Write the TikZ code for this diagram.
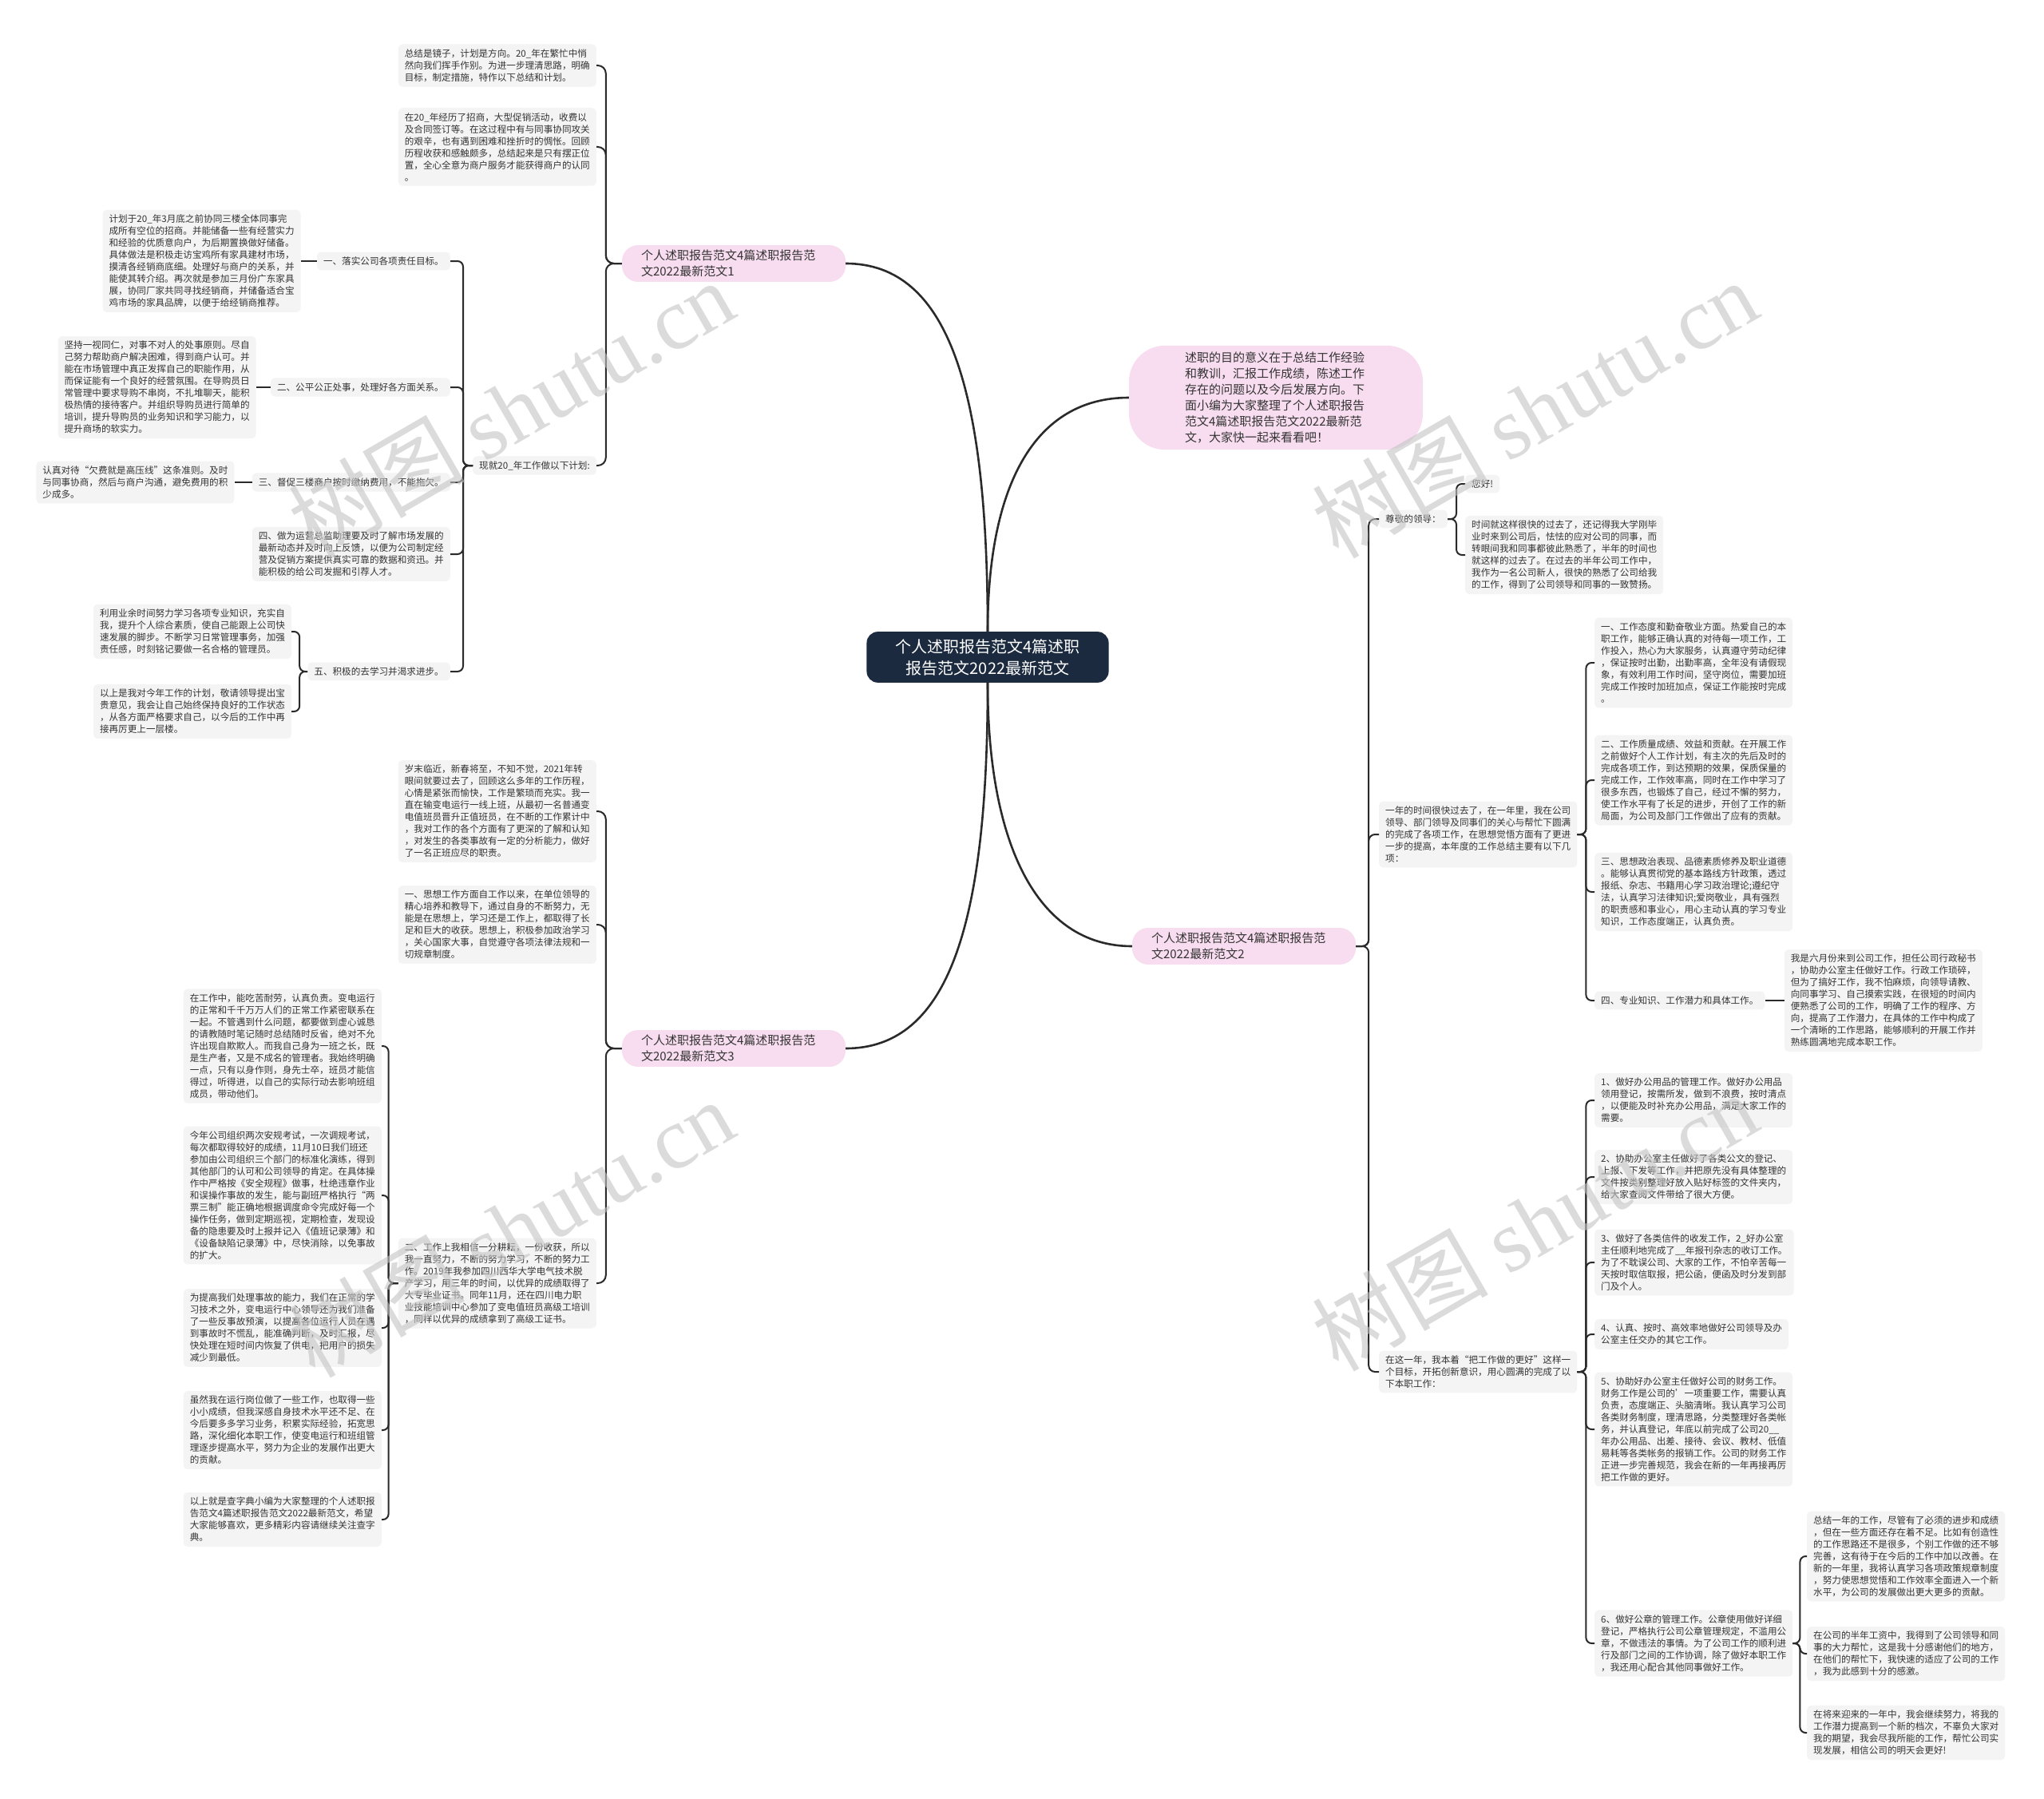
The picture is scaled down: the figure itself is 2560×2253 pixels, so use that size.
\documentclass[tikz,border=0pt]{standalone}
\usepackage{fontspec}
\setmainfont{Noto Sans CJK SC}
\newfontfamily\wmlatin{Liberation Serif}
\usetikzlibrary{positioning,calc}
\definecolor{navy}{HTML}{1B2A3F}
\definecolor{pinkfill}{HTML}{F8DDF0}
\definecolor{leafgray}{HTML}{F4F4F4}
\definecolor{ink}{HTML}{333333}
\definecolor{wire}{HTML}{2A2A2A}
\definecolor{wmgray}{HTML}{C4C4C4}
\newcommand{\leaffont}{\fontsize{11.6}{15}\selectfont}
\tikzset{
  ctrbox/.style={fill=navy, text=white, rounded corners=14pt, align=center,
                 font=\fontsize{20}{27}\selectfont, inner xsep=36pt, inner ysep=9pt},
  pinkbox/.style={fill=pinkfill, text=ink, rounded corners=20pt, align=left,
                  font=\fontsize{15}{20}\selectfont, text width=232pt,
                  inner xsep=24pt, inner ysep=6pt},
  leaf/.style={fill=leafgray, text=ink, rounded corners=5pt, align=left,
               font=\leaffont, inner xsep=8pt, inner ysep=6pt},
  trunk/.style={draw=wire, line width=2.6pt},
  twig/.style={draw=wire, line width=2pt, rounded corners=7pt},
  wmark/.style={rotate=30, text=wmgray, text opacity=0.6, inner sep=0pt,
                font=\fontsize{110}{110}\selectfont}
}
\begin{document}
\begin{tikzpicture}[x=1pt,y=-1pt]
  \fill[white] (0,0) rectangle (2560,2253);

  % centre and first level
  \node[ctrbox] (ctr) at (1237,823) {个人述职报告范文4篇述职\\报告范文2022最新范文};
  \node[pinkbox] (b1) at (919,330) {个人述职报告范文4篇述职报告范\\文2022最新范文1};
  \node[pinkbox, text width=228pt, inner xsep=70pt, inner ysep=8pt, rounded corners=45pt] (intro) at (1598,498)
    {述职的目的意义在于总结工作经验\\和教训，汇报工作成绩，陈述工作\\存在的问题以及今后发展方向。下\\面小编为大家整理了个人述职报告\\范文4篇述职报告范文2022最新范\\文，大家快一起来看看吧！};
  \node[pinkbox] (b2) at (1558,1185) {个人述职报告范文4篇述职报告范\\文2022最新范文2};
  \node[pinkbox] (b3) at (919,1313) {个人述职报告范文4篇述职报告范\\文2022最新范文3};

  \draw[trunk] (ctr.north) .. controls +(0,-300) and +(130,0) .. (b1.east);
  \draw[trunk] (ctr.north) .. controls +(0,-180) and +(-120,0) .. (intro.west);
  \draw[trunk] (ctr.south) .. controls +(0,200) and +(-120,0) .. (b2.west);
  \draw[trunk] (ctr.south) .. controls +(0,300) and +(130,0) .. (b3.east);

  % branch 1
  \node[leaf, anchor=east] (l1a) at (747,82) {总结是镜子，计划是方向。20\_年在繁忙中悄\\然向我们挥手作别。为进一步理清思路，明确\\目标，制定措施，特作以下总结和计划。};
  \node[leaf, anchor=east] (l1b) at (747,184) {在20\_年经历了招商，大型促销活动，收费以\\及合同签订等。在这过程中有与同事协同攻关\\的艰辛，也有遇到困难和挫折时的惆怅。回顾\\历程收获和感触颇多，总结起来是只有摆正位\\置，全心全意为商户服务才能获得商户的认同\\。};
  \node[leaf, anchor=east] (l1c) at (747,583) {现就20\_年工作做以下计划:};

  \node[leaf, anchor=east] (c1) at (564,327) {一、落实公司各项责任目标。};
  \node[leaf, anchor=east] (c2) at (564,485) {二、公平公正处事，处理好各方面关系。};
  \node[leaf, anchor=east] (c3) at (564,604) {三、督促三楼商户按时缴纳费用，不能拖欠。};
  \node[leaf, anchor=east] (c4) at (564,694) {四、做为运营总监助理要及时了解市场发展的\\最新动态并及时向上反馈，以便为公司制定经\\营及促销方案提供真实可靠的数据和资迅。并\\能积极的给公司发掘和引荐人才。};
  \node[leaf, anchor=east] (c5) at (564,841) {五、积极的去学习并渴求进步。};

  \node[leaf, left=20pt of c1] (g1) {计划于20\_年3月底之前协同三楼全体同事完\\成所有空位的招商。并能储备一些有经营实力\\和经验的优质意向户，为后期置换做好储备。\\具体做法是积极走访宝鸡所有家具建材市场，\\摸清各经销商底细。处理好与商户的关系，并\\能使其转介绍。再次就是参加三月份广东家具\\展，协同厂家共同寻找经销商，并储备适合宝\\鸡市场的家具品牌，以便于给经销商推荐。};
  \node[leaf, left=18pt of c2] (g2) {坚持一视同仁，对事不对人的处事原则。尽自\\己努力帮助商户解决困难，得到商户认可。并\\能在市场管理中真正发挥自己的职能作用，从\\而保证能有一个良好的经营氛围。在导购员日\\常管理中要求导购不串岗，不扎堆聊天，能积\\极热情的接待客户。并组织导购员进行简单的\\培训，提升导购员的业务知识和学习能力，以\\提升商场的软实力。};
  \node[leaf, left=22pt of c3] (g3) {认真对待“欠费就是高压线”这条准则。及时\\与同事协商，然后与商户沟通，避免费用的积\\少成多。};
  \node[leaf, left=20pt of c5, yshift=50pt] (g5a) {利用业余时间努力学习各项专业知识，充实自\\我，提升个人综合素质，使自己能跟上公司快\\速发展的脚步。不断学习日常管理事务，加强\\责任感，时刻铭记要做一名合格的管理员。};
  \node[leaf, left=20pt of c5, yshift=-50pt] (g5b) {以上是我对今年工作的计划，敬请领导提出宝\\贵意见，我会让自己始终保持良好的工作状态\\，从各方面严格要求自己，以今后的工作中再\\接再厉更上一层楼。};

  \foreach \c in {l1a,l1b,l1c} { \draw[twig, rounded corners=10pt] (b1.west) -- ++(-20,0) |- (\c.east); }
  \foreach \c in {c1,c2,c3,c4,c5} { \draw[twig] (l1c.west) -- ++(-12,0) |- (\c.east); }
  \draw[twig] (c1.west) -- (g1.east);
  \draw[twig] (c2.west) -- (g2.east);
  \draw[twig] (c3.west) -- (g3.east);
  \foreach \g in {g5a,g5b} { \draw[twig] (c5.west) -- ++(-10,0) |- (\g.east); }

  % branch 3
  \node[leaf, anchor=east] (l3a) at (747,1016) {岁末临近，新春将至，不知不觉，2021年转\\眼间就要过去了，回顾这么多年的工作历程，\\心情是紧张而愉快，工作是繁琐而充实。我一\\直在输变电运行一线上班，从最初一名普通变\\电值班员晋升正值班员，在不断的工作累计中\\，我对工作的各个方面有了更深的了解和认知\\，对发生的各类事故有一定的分析能力，做好\\了一名正班应尽的职责。};
  \node[leaf, anchor=east] (l3b) at (747,1158) {一、思想工作方面自工作以来，在单位领导的\\精心培养和教导下，通过自身的不断努力，无\\能是在思想上，学习还是工作上，都取得了长\\足和巨大的收获。思想上，积极参加政治学习\\，关心国家大事，自觉遵守各项法律法规和一\\切规章制度。};
  \node[leaf, anchor=east] (l3c) at (747,1607) {二、工作上我相信一分耕耘，一份收获，所以\\我一直努力，不断的努力学习，不断的努力工\\作。2019年我参加四川西华大学电气技术脱\\产学习，用三年的时间，以优异的成绩取得了\\大专毕业证书。同年11月，还在四川电力职\\业技能培训中心参加了变电值班员高级工培训\\，同样以优异的成绩拿到了高级工证书。};

  \node[leaf, anchor=east] (d1) at (478,1310) {在工作中，能吃苦耐劳，认真负责。变电运行\\的正常和千千万万人们的正常工作紧密联系在\\一起。不管遇到什么问题，都要做到虚心诚恳\\的请教随时笔记随时总结随时反省，绝对不允\\许出现自欺欺人。而我自己身为一班之长，既\\是生产者，又是不成名的管理者。我始终明确\\一点，只有以身作则，身先士卒，班员才能信\\得过，听得进，以自己的实际行动去影响班组\\成员，带动他们。};
  \node[leaf, anchor=east] (d2) at (478,1497) {今年公司组织两次安规考试，一次调规考试，\\每次都取得较好的成绩，11月10日我们班还\\参加由公司组织三个部门的标准化演练，得到\\其他部门的认可和公司领导的肯定。在具体操\\作中严格按《安全规程》做事，杜绝违章作业\\和误操作事故的发生，能与副班严格执行“两\\票三制”能正确地根据调度命令完成好每一个\\操作任务，做到定期巡视，定期检查，发现设\\备的隐患要及时上报并记入《值班记录薄》和\\《设备缺陷记录薄》中，尽快消除，以免事故\\的扩大。};
  \node[leaf, anchor=east] (d3) at (478,1663) {为提高我们处理事故的能力，我们在正常的学\\习技术之外，变电运行中心领导还为我们准备\\了一些反事故预演，以提高各位运行人员在遇\\到事故时不慌乱，能准确判断，及时汇报，尽\\快处理在短时间内恢复了供电，把用户的损失\\减少到最低。};
  \node[leaf, anchor=east] (d4) at (478,1791) {虽然我在运行岗位做了一些工作，也取得一些\\小小成绩，但我深感自身技术水平还不足、在\\今后要多多学习业务，积累实际经验，拓宽思\\路，深化细化本职工作，使变电运行和班组管\\理逐步提高水平，努力为企业的发展作出更大\\的贡献。};
  \node[leaf, anchor=east] (d5) at (478,1903) {以上就是查字典小编为大家整理的个人述职报\\告范文4篇述职报告范文2022最新范文，希望\\大家能够喜欢，更多精彩内容请继续关注查字\\典。};

  \foreach \c in {l3a,l3b,l3c} { \draw[twig, rounded corners=10pt] (b3.west) -- ++(-20,0) |- (\c.east); }
  \foreach \c in {d1,d2,d3,d4,d5} { \draw[twig] (l3c.west) -- ++(-12,0) |- (\c.east); }

  % branch 2
  \node[leaf, anchor=west] (r1) at (1727,650) {尊敬的领导：};
  \node[leaf, right=22pt of r1, yshift=44pt] (r1a) {您好!};
  \node[leaf, right=22pt of r1, yshift=-45pt] (r1b) {时间就这样很快的过去了，还记得我大学刚毕\\业时来到公司后，怯怯的应对公司的同事，而\\转眼间我和同事都彼此熟悉了，半年的时间也\\就这样的过去了。在过去的半年公司工作中，\\我作为一名公司新人，很快的熟悉了公司给我\\的工作，得到了公司领导和同事的一致赞扬。};

  \node[leaf, anchor=west] (r2) at (1727,1045) {一年的时间很快过去了，在一年里，我在公司\\领导、部门领导及同事们的关心与帮忙下圆满\\的完成了各项工作，在思想觉悟方面有了更进\\一步的提高，本年度的工作总结主要有以下几\\项：};
  \node[leaf, anchor=west] (r2a) at (1997,830) {一、工作态度和勤奋敬业方面。热爱自己的本\\职工作，能够正确认真的对待每一项工作，工\\作投入，热心为大家服务，认真遵守劳动纪律\\，保证按时出勤，出勤率高，全年没有请假现\\象，有效利用工作时间，坚守岗位，需要加班\\完成工作按时加班加点，保证工作能按时完成\\。};
  \node[leaf, anchor=west] (r2b) at (1997,977) {二、工作质量成绩、效益和贡献。在开展工作\\之前做好个人工作计划，有主次的先后及时的\\完成各项工作，到达预期的效果，保质保量的\\完成工作，工作效率高，同时在工作中学习了\\很多东西，也锻炼了自己，经过不懈的努力，\\使工作水平有了长足的进步，开创了工作的新\\局面，为公司及部门工作做出了应有的贡献。};
  \node[leaf, anchor=west] (r2c) at (1997,1117) {三、思想政治表现、品德素质修养及职业道德\\。能够认真贯彻党的基本路线方针政策，透过\\报纸、杂志、书籍用心学习政治理论;遵纪守\\法，认真学习法律知识;爱岗敬业，具有强烈\\的职责感和事业心，用心主动认真的学习专业\\知识，工作态度端正，认真负责。};
  \node[leaf, anchor=west] (r2d) at (1997,1253) {四、专业知识、工作潜力和具体工作。};
  \node[leaf, right=24pt of r2d] (r2d1) {我是六月份来到公司工作，担任公司行政秘书\\，协助办公室主任做好工作。行政工作琐碎，\\但为了搞好工作，我不怕麻烦，向领导请教、\\向同事学习、自己摸索实践，在很短的时间内\\便熟悉了公司的工作，明确了工作的程序、方\\向，提高了工作潜力，在具体的工作中构成了\\一个清晰的工作思路，能够顺利的开展工作并\\熟练圆满地完成本职工作。};

  \node[leaf, anchor=west] (r3) at (1727,1718) {在这一年，我本着“把工作做的更好”这样一\\个目标，开拓创新意识，用心圆满的完成了以\\下本职工作：};
  \node[leaf, anchor=west] (r3a) at (1997,1378) {1、做好办公用品的管理工作。做好办公用品\\领用登记，按需所发，做到不浪费，按时清点\\，以便能及时补充办公用品，满足大家工作的\\需要。};
  \node[leaf, anchor=west] (r3b) at (1997,1474) {2、协助办公室主任做好了各类公文的登记、\\上报、下发等工作，并把原先没有具体整理的\\文件按类别整理好放入贴好标签的文件夹内，\\给大家查阅文件带给了很大方便。};
  \node[leaf, anchor=west] (r3c) at (1997,1581) {3、做好了各类信件的收发工作，2\_好办公室\\主任顺利地完成了\_\_年报刊杂志的收订工作。\\为了不耽误公司、大家的工作，不怕辛苦每一\\天按时取信取报，把公函，便函及时分发到部\\门及个人。};
  \node[leaf, anchor=west] (r3d) at (1997,1671) {4、认真、按时、高效率地做好公司领导及办\\公室主任交办的其它工作。};
  \node[leaf, anchor=west] (r3e) at (1997,1790) {5、协助好办公室主任做好公司的财务工作。\\财务工作是公司的’一项重要工作，需要认真\\负责，态度端正、头脑清晰。我认真学习公司\\各类财务制度，理清思路，分类整理好各类帐\\务，并认真登记，年底以前完成了公司20\_\_\\年办公用品、出差、接待、会议、教材、低值\\易耗等各类帐务的报销工作。公司的财务工作\\正进一步完善规范，我会在新的一年再接再厉\\把工作做的更好。};
  \node[leaf, anchor=west] (r3f) at (1997,2058) {6、做好公章的管理工作。公章使用做好详细\\登记，严格执行公司公章管理规定，不滥用公\\章，不做违法的事情。为了公司工作的顺利进\\行及部门之间的工作协调，除了做好本职工作\\，我还用心配合其他同事做好工作。};
  \node[leaf, anchor=west] (r3f1) at (2263,1949) {总结一年的工作，尽管有了必须的进步和成绩\\，但在一些方面还存在着不足。比如有创造性\\的工作思路还不是很多，个别工作做的还不够\\完善，这有待于在今后的工作中加以改善。在\\新的一年里，我将认真学习各项政策规章制度\\，努力使思想觉悟和工作效率全面进入一个新\\水平，为公司的发展做出更大更多的贡献。};
  \node[leaf, anchor=west] (r3f2) at (2263,2071) {在公司的半年工资中，我得到了公司领导和同\\事的大力帮忙，这是我十分感谢他们的地方，\\在他们的帮忙下，我快速的适应了公司的工作\\，我为此感到十分的感激。};
  \node[leaf, anchor=west] (r3f3) at (2263,2170) {在将来迎来的一年中，我会继续努力，将我的\\工作潜力提高到一个新的档次，不辜负大家对\\我的期望，我会尽我所能的工作，帮忙公司实\\现发展，相信公司的明天会更好!};

  \foreach \c in {r1,r2,r3} { \draw[twig, rounded corners=8pt] (b2.east) -- ++(16,0) |- (\c.west); }
  \foreach \c in {r1a,r1b} { \draw[twig] (r1.east) -- ++(11,0) |- (\c.west); }
  \foreach \c in {r2a,r2b,r2c,r2d} { \draw[twig] (r2.east) -- ++(11,0) |- (\c.west); }
  \draw[twig] (r2d.east) -- (r2d1.west);
  \foreach \c in {r3a,r3b,r3c,r3d,r3e,r3f} { \draw[twig] (r3.east) -- ++(11,0) |- (\c.west); }
  \foreach \c in {r3f1,r3f2,r3f3} { \draw[twig] (r3f.east) -- ++(9,0) |- (\c.west); }

  % watermark
  \foreach \x/\y [count=\i] in {640/512,1922/512,640/1538,1922/1530} {
    \node[wmark] (wm\i) at (\x,\y) {树图 {\wmlatin shutu.cn}};
  }
\end{tikzpicture}
\end{document}
